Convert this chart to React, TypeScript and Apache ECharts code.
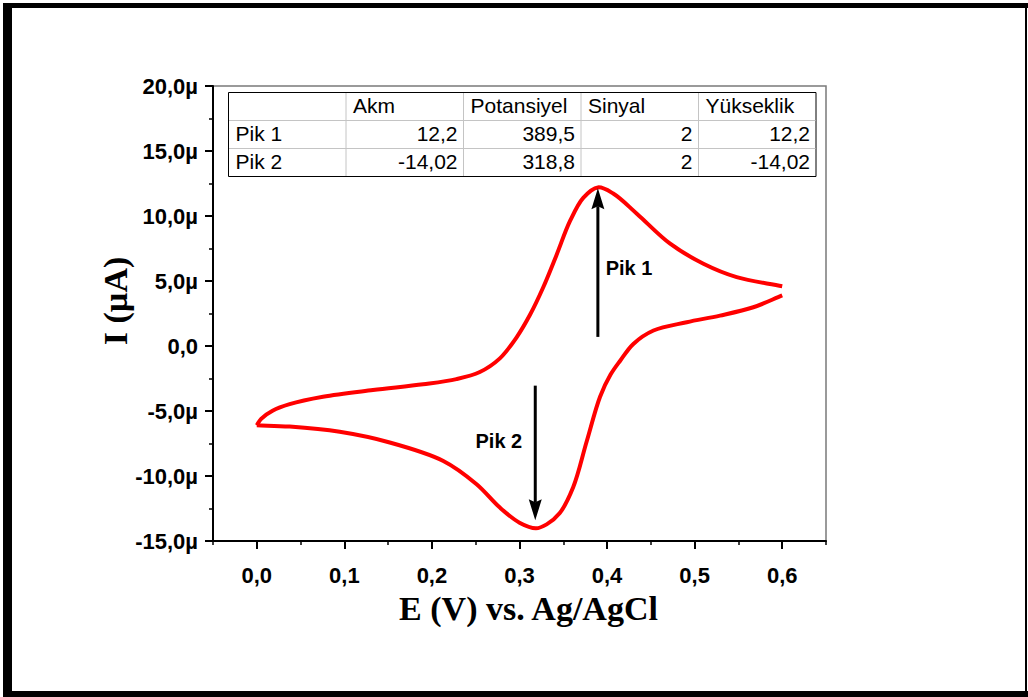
import React, { useEffect, useRef } from "react";
import * as echarts from "echarts";

// ---------- data ----------
// forward (anodic) scan, E in V, I in µA
const forwardE = [0.0, 0.005, 0.018, 0.0375, 0.0756, 0.1327, 0.19, 0.228, 0.2547, 0.2776, 0.2967, 0.312, 0.327, 0.342, 0.3576, 0.3728, 0.3895, 0.407, 0.434, 0.472, 0.51, 0.548, 0.6];
const forwardI = [-6.1, -5.6, -4.98, -4.47, -3.9, -3.39, -2.95, -2.55, -2.0, -0.95, 0.67, 2.4, 4.5, 6.95, 9.6, 11.4, 12.2, 11.73, 10.18, 7.87, 6.33, 5.3, 4.6];
// reverse (cathodic) scan
const reverseE = [0.6, 0.567, 0.529, 0.491, 0.453, 0.43, 0.415, 0.404, 0.392, 0.3767, 0.3614, 0.346, 0.331, 0.3188, 0.3, 0.2776, 0.251, 0.213, 0.1518, 0.0947, 0.0375, 0.0];
const reverseI = [3.89, 2.98, 2.34, 1.83, 1.19, 0.16, -1.13, -2.2, -3.9, -7.35, -10.85, -12.85, -13.72, -14.02, -13.59, -12.43, -10.63, -8.84, -7.42, -6.6, -6.2, -6.1];

// annotations: arrow x, arrow start I, arrow tip I, label E, label I
const peakNames = ["Pik 1", "Pik 2"];
const arrowE = [0.3895, 0.318];
const arrowStartI = [0.7, -3.05];
const arrowTipI = [12.14, -13.41];
const labelE = [0.4251, 0.2764];
const labelI = [5.97, -7.33];

// table
const tableHeader = ["", "Akm", "Potansiyel", "Sinyal", "Yükseklik"];
const tableRows = [
  ["Pik 1", "12,2", "389,5", "2", "12,2"],
  ["Pik 2", "-14,02", "318,8", "2", "-14,02"],
];

const xAxisTitle = "E (V) vs. Ag/AgCl";
const yAxisTitle = "I (µA)";

// axes
const X_MIN = -0.05;
const X_MAX = 0.65;
const Y_MIN = -15;
const Y_MAX = 20;

// ---------- layout ----------
const W = 1028;
const H = 697;
const GL = 213;
const GT = 86;
const GR = 826;
const GB = 541;
const xpx = (v: number) => GL + ((v - X_MIN) / (X_MAX - X_MIN)) * (GR - GL);

const SANS = "'Liberation Sans', Arial, sans-serif";
const SERIF = "'Liberation Serif', 'Times New Roman', serif";

// centripetal Catmull-Rom through pixel points -> cubic bezier path
function smoothPath(pts: number[][]): string {
  const dist = (a: number[], b: number[]) => Math.hypot(a[0] - b[0], a[1] - b[1]);
  let d = `M${pts[0][0]},${pts[0][1]}`;
  for (let i = 0; i < pts.length - 1; i++) {
    const p0 = pts[i - 1] || pts[i];
    const p1 = pts[i];
    const p2 = pts[i + 1];
    const p3 = pts[i + 2] || pts[i + 1];
    const d1 = Math.sqrt(dist(p0, p1));
    const d2 = Math.sqrt(dist(p1, p2));
    const d3 = Math.sqrt(dist(p2, p3));
    let c1: number[];
    let c2: number[];
    if (d1 < 1e-6) {
      c1 = [p1[0] + (p2[0] - p1[0]) / 3, p1[1] + (p2[1] - p1[1]) / 3];
    } else {
      const a = d1 * d1, b = d2 * d2, m = 2 * a + 3 * d1 * d2 + b, n = 3 * d1 * (d1 + d2);
      c1 = [(a * p2[0] - b * p0[0] + m * p1[0]) / n, (a * p2[1] - b * p0[1] + m * p1[1]) / n];
    }
    if (d3 < 1e-6) {
      c2 = [p2[0] - (p2[0] - p1[0]) / 3, p2[1] - (p2[1] - p1[1]) / 3];
    } else {
      const a = d3 * d3, b = d2 * d2, m = 2 * a + 3 * d3 * d2 + b, n = 3 * d3 * (d3 + d2);
      c2 = [(a * p1[0] - b * p3[0] + m * p2[0]) / n, (a * p1[1] - b * p3[1] + m * p2[1]) / n];
    }
    d += ` C${c1[0]},${c1[1]} ${c2[0]},${c2[1]} ${p2[0]},${p2[1]}`;
  }
  return d;
}

function buildTable(): any[] {
  const x0 = 228.5;
  const colW = 117.5;
  const rowY = [92.5, 120.5, 148.5, 176.5];
  const els: any[] = [];
  els.push({
    type: "rect",
    shape: { x: x0, y: rowY[0], width: colW * 5, height: rowY[3] - rowY[0] },
    style: { fill: "#fff", stroke: "#000", lineWidth: 1 },
    z: 10,
  });
  for (let r = 1; r < 3; r++) {
    els.push({
      type: "line",
      shape: { x1: x0 + 0.5, y1: rowY[r], x2: x0 + colW * 5 - 0.5, y2: rowY[r] },
      style: { stroke: "#c4c4c4", lineWidth: 1 },
      z: 11,
    });
  }
  for (let c = 1; c < 5; c++) {
    els.push({
      type: "line",
      shape: { x1: x0 + colW * c, y1: rowY[0] + 0.5, x2: x0 + colW * c, y2: rowY[3] - 0.5 },
      style: { stroke: "#c4c4c4", lineWidth: 1 },
      z: 11,
    });
  }
  const rows = [tableHeader, ...tableRows];
  rows.forEach((row, r) => {
    const cy = (rowY[r] + rowY[r + 1]) / 2 - 1;
    row.forEach((txt, c) => {
      if (!txt) return;
      const left = r === 0 || c === 0;
      els.push({
        type: "text",
        x: left ? x0 + colW * c + 7 : x0 + colW * (c + 1) - 6,
        y: cy,
        style: {
          text: txt,
          fill: "#000",
          fontSize: 21,
          fontFamily: SANS,
          align: left ? "left" : "right",
          verticalAlign: "middle",
        },
        z: 12,
      });
    });
  });
  return els;
}

export default function App() {
  const ref = useRef<HTMLDivElement>(null);

  useEffect(() => {
    if (!ref.current) return;
    const chart = echarts.init(ref.current, null, { renderer: "svg" });

    const yFmt = (v: number) => (v === 0 ? "0,0" : v.toFixed(1).replace(".", ",") + "µ");
    const xFmt = (v: number) => v.toFixed(1).replace(".", ",");
    const axisFont = { fontSize: 22, fontWeight: "bold" as const, fontFamily: SANS, color: "#000" };

    const branchSeries = (E: number[], I: number[]) => ({
      type: "custom",
      coordinateSystem: "cartesian2d",
      xAxisIndex: 0,
      yAxisIndex: 0,
      silent: true,
      z: 3,
      data: E.map((e, i) => [e, I[i]]),
      renderItem: (params: any, api: any) => {
        if (params.dataIndex !== 0) return null;
        const pts = E.map((e, i) => api.coord([e, I[i]]));
        return {
          type: "path",
          shape: { pathData: smoothPath(pts) },
          style: { stroke: "#ff0000", lineWidth: 4, fill: "none", lineJoin: "round" },
        };
      },
    });

    const annotationSeries = {
      type: "custom",
      coordinateSystem: "cartesian2d",
      xAxisIndex: 0,
      yAxisIndex: 0,
      silent: true,
      z: 5,
      data: arrowE.map((e, i) => [e, arrowStartI[i], arrowTipI[i], labelE[i], labelI[i]]),
      renderItem: (params: any, api: any) => {
        const i = params.dataIndex;
        const base = api.coord([arrowE[i], arrowStartI[i]]);
        const tip = api.coord([arrowE[i], arrowTipI[i]]);
        const lab = api.coord([labelE[i], labelI[i]]);
        const len = Math.hypot(tip[0] - base[0], tip[1] - base[1]);
        const ux = (tip[0] - base[0]) / len;
        const uy = (tip[1] - base[1]) / len;
        const px = -uy;
        const py = ux;
        const HL = 21;
        const HW = 6.5;
        const notch = 3;
        const headBase = [tip[0] - ux * HL, tip[1] - uy * HL];
        const notchPt = [tip[0] - ux * (HL - notch), tip[1] - uy * (HL - notch)];
        return {
          type: "group",
          children: [
            {
              type: "line",
              shape: { x1: base[0], y1: base[1], x2: notchPt[0], y2: notchPt[1] },
              style: { stroke: "#000", lineWidth: 3 },
            },
            {
              type: "polygon",
              shape: {
                points: [
                  tip,
                  [headBase[0] + px * HW, headBase[1] + py * HW],
                  notchPt,
                  [headBase[0] - px * HW, headBase[1] - py * HW],
                ],
              },
              style: { fill: "#000" },
            },
            {
              type: "text",
              x: lab[0],
              y: lab[1],
              style: {
                text: peakNames[i],
                fill: "#000",
                fontSize: 20,
                fontWeight: "bold",
                fontFamily: SANS,
                align: "center",
                verticalAlign: "middle",
              },
            },
          ],
        };
      },
    };

    const option: any = {
      animation: false,
      backgroundColor: "#fff",
      grid: [
        { left: GL, top: GT, width: GR - GL, height: GB - GT, show: true, borderColor: "#7a7a7a", borderWidth: 1.5, backgroundColor: "transparent" },
        { left: xpx(0), top: GT, width: xpx(0.6) - xpx(0), height: GB - GT, show: false },
      ],
      xAxis: [
        {
          type: "value",
          gridIndex: 0,
          min: X_MIN,
          max: X_MAX,
          interval: 0.05,
          axisLine: { show: true, onZero: false, lineStyle: { color: "#000", width: 2 } },
          axisTick: { show: true, length: 4, lineStyle: { color: "#000", width: 1.5 } },
          axisLabel: { show: false },
          splitLine: { show: false },
        },
        {
          type: "value",
          gridIndex: 1,
          min: 0,
          max: 0.6,
          interval: 0.1,
          axisLine: { show: false, onZero: false },
          axisTick: { show: true, length: 8, lineStyle: { color: "#000", width: 2 } },
          axisLabel: { ...axisFont, margin: 23, formatter: xFmt },
          splitLine: { show: false },
        },
      ],
      yAxis: [
        {
          type: "value",
          gridIndex: 0,
          min: Y_MIN,
          max: Y_MAX,
          interval: 5,
          axisLine: { show: true, onZero: false, lineStyle: { color: "#000", width: 2 } },
          axisTick: { show: true, length: 8, lineStyle: { color: "#000", width: 2 } },
          minorTick: { show: true, splitNumber: 2, length: 4, lineStyle: { color: "#000", width: 1.5 } },
          axisLabel: { ...axisFont, margin: 15, formatter: yFmt },
          splitLine: { show: false },
          minorSplitLine: { show: false },
        },
        { type: "value", gridIndex: 1, min: Y_MIN, max: Y_MAX, show: false },
      ],
      series: [branchSeries(forwardE, forwardI), branchSeries(reverseE, reverseI), annotationSeries],
      graphic: [
        // outer frame
        { type: "rect", shape: { x: 3, y: 3, width: W - 3, height: 5 }, style: { fill: "#000" }, z: 50 },
        { type: "rect", shape: { x: 3, y: 3, width: 9, height: H - 3 }, style: { fill: "#000" }, z: 50 },
        { type: "rect", shape: { x: 3, y: 691, width: W - 3, height: 6 }, style: { fill: "#000" }, z: 50 },
        { type: "rect", shape: { x: 1025, y: 3, width: 2, height: H - 3 }, style: { fill: "#000" }, z: 50 },
        // axis titles
        {
          type: "text",
          x: 528.5,
          y: 608,
          style: { text: xAxisTitle, fill: "#000", fontSize: 34, fontWeight: "bold", fontFamily: SERIF, align: "center", verticalAlign: "middle" },
          z: 20,
        },
        {
          type: "text",
          x: 115,
          y: 301,
          rotation: Math.PI / 2,
          style: { text: yAxisTitle, fill: "#000", fontSize: 34, fontWeight: "bold", fontFamily: SERIF, align: "center", verticalAlign: "middle" },
          z: 20,
        },
        ...buildTable(),
      ],
    };

    chart.setOption(option);
    return () => chart.dispose();
  }, []);

  return <div ref={ref} style={{ position: "absolute", left: 0, top: 0, width: W, height: H }} />;
}
